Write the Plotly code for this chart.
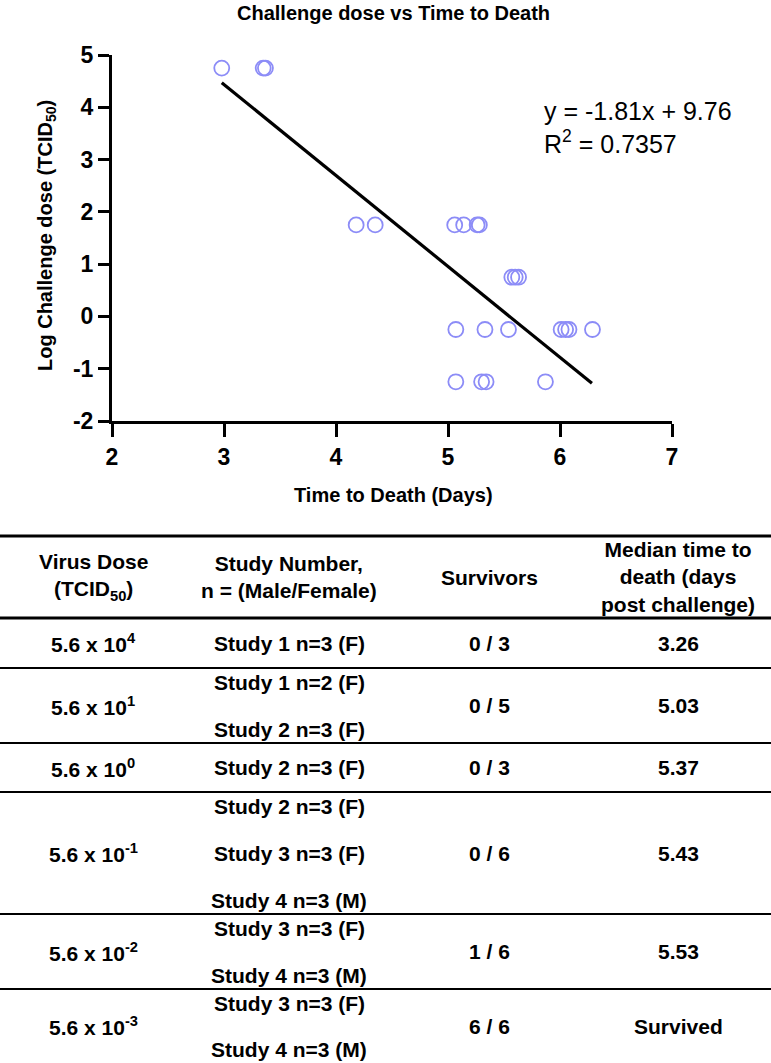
import plotly.graph_objects as go

# ---------------- data ----------------
# Scatter: time to death (days) vs log challenge dose (TCID50)
time_to_death = [2.98, 3.35, 3.37,
                 4.18, 4.35, 5.06, 5.14, 5.26, 5.28,
                 5.57, 5.60, 5.63,
                 5.07, 5.33, 5.54, 6.01, 6.05, 6.08, 6.29,
                 5.07, 5.30, 5.34, 5.87]
log_dose = [4.75, 4.75, 4.75,
            1.75, 1.75, 1.75, 1.75, 1.75, 1.75,
            0.75, 0.75, 0.75,
            -0.25, -0.25, -0.25, -0.25, -0.25, -0.25, -0.25,
            -1.25, -1.25, -1.25, -1.25]
fit_x = [2.98, 6.285]
fit_y = [4.47, -1.28]
fit_text = "y = -1.81x + 9.76<br>R<sup>2</sup> = 0.7357"

x_ticks = [2, 3, 4, 5, 6, 7]
x_tick_labels = ["2", "3", "4", "5", "6", "7"]
y_ticks = [-2, -1, 0, 1, 2, 3, 4, 5]
y_tick_labels = ["-2", "-1", "0", "1", "2", "3", "4", "5"]

# Table
headers = ["Virus Dose<br>(TCID<sub>50</sub>)",
           "Study Number,<br>n = (Male/Female)",
           "Survivors",
           "Median time to<br>death (days<br>post challenge)"]
doses = ["5.6 x 10<sup>4</sup>", "5.6 x 10<sup>1</sup>", "5.6 x 10<sup>0</sup>",
         "5.6 x 10<sup>-1</sup>", "5.6 x 10<sup>-2</sup>", "5.6 x 10<sup>-3</sup>"]
studies = [["Study 1 n=3 (F)"],
           ["Study 1 n=2 (F)", "Study 2 n=3 (F)"],
           ["Study 2 n=3 (F)"],
           ["Study 2 n=3 (F)", "Study 3 n=3 (F)", "Study 4 n=3 (M)"],
           ["Study 3 n=3 (F)", "Study 4 n=3 (M)"],
           ["Study 3 n=3 (F)", "Study 4 n=3 (M)"]]
survivors = ["0 / 3", "0 / 5", "0 / 3", "0 / 6", "1 / 6", "6 / 6"]
medians = ["3.26", "5.03", "5.37", "5.43", "5.53", "Survived"]

# ---------------- layout helpers ----------------
W, H = 771, 1063
FONT = "Liberation Sans, Arial, Helvetica, sans-serif"


def px(x):
    return x / W


def py(y):
    return 1 - y / H


fig = go.Figure()

fig.add_trace(go.Scatter(
    x=time_to_death, y=log_dose, mode="markers",
    marker=dict(symbol="circle-open", size=15, color="#8c8cf7",
                line=dict(width=1.8, color="#8c8cf7")),
    showlegend=False, hoverinfo="x+y"))

fig.add_trace(go.Scatter(
    x=fit_x, y=fit_y, mode="lines",
    line=dict(color="black", width=3.2),
    showlegend=False, hoverinfo="skip"))

axis_common = dict(showgrid=False, zeroline=False, showline=True,
                   linecolor="black", linewidth=3, ticks="outside",
                   tickcolor="black", tickwidth=3, automargin=False,
                   tickfont=dict(family=FONT, size=23, color="black", weight="bold"))

fig.update_layout(
    width=W, height=H,
    margin=dict(l=0, r=0, t=0, b=0),
    paper_bgcolor="white", plot_bgcolor="white",
    font=dict(family=FONT, color="black"),
    xaxis=dict(range=[2, 7], domain=[px(112), px(672)], tickvals=x_ticks,
               ticktext=x_tick_labels, ticklen=13, anchor="y", **axis_common),
    yaxis=dict(range=[-2, 5], domain=[py(421), py(55)], tickvals=y_ticks,
               ticktext=y_tick_labels, ticklen=11, anchor="x", **axis_common),
)

ann = []


def text(x, y, s, size=21, bold=True, angle=0, xanchor="center", align="center"):
    ann.append(dict(x=px(x), y=py(y), xref="paper", yref="paper", text=s,
                    showarrow=False, xanchor=xanchor, yanchor="middle",
                    align=align, textangle=angle,
                    font=dict(family=FONT, size=size, color="black",
                              weight="bold" if bold else "normal")))


# chart titles
text(393, 13, "Challenge dose vs Time to Death", size=20)
text(393, 495, "Time to Death (Days)", size=20)
text(47, 236, "Log Challenge dose (TCID<sub>50</sub>)", size=20, angle=-90)
text(542, 127, fit_text, size=25, bold=False, xanchor="left", align="left")

# table
col_x = [93, 289, 490, 678]
row_lines = [536, 618, 668, 743, 792, 914, 989]
row_bottom = row_lines[2:] + [H]

for cx, h in zip(col_x, headers):
    text(cx, 577, h, size=21)

shapes = []
for i, yl in enumerate(row_lines):
    shapes.append(dict(type="line", xref="paper", yref="paper",
                       x0=0, x1=1, y0=py(yl), y1=py(yl),
                       line=dict(color="black", width=3 if i < 2 else 2)))

for r in range(len(doses)):
    top = row_lines[r + 1]
    bot = row_bottom[r]
    mid = (top + bot) / 2
    text(col_x[0], mid, doses[r], size=21)
    text(col_x[2], mid, survivors[r], size=21)
    text(col_x[3], mid, medians[r], size=21)
    k = len(studies[r])
    if k == 1:
        text(col_x[1], mid, studies[r][0], size=21)
    else:
        y0, y1 = top + 14, bot - 14
        for j, s in enumerate(studies[r]):
            text(col_x[1], y0 + (y1 - y0) * j / (k - 1), s, size=21)

fig.update_layout(annotations=ann, shapes=shapes)

fig.write_html(
    "out.html",
    config={"displayModeBar": False},
    post_script=("document.documentElement.style.margin='0';"
                 "document.documentElement.style.overflow='hidden';"
                 "document.body.style.margin='0';"
                 "document.body.style.overflow='hidden';"))
